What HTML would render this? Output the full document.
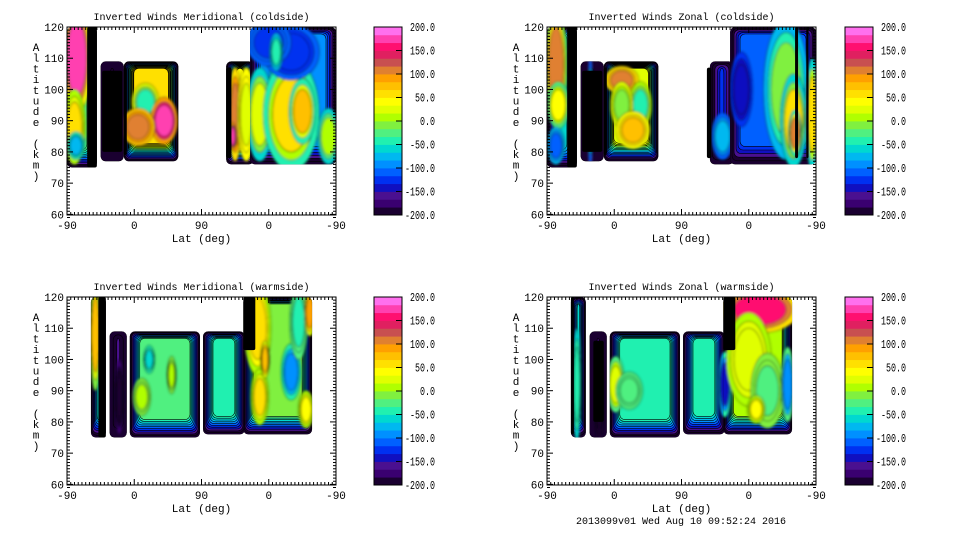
<!DOCTYPE html>
<html><head><meta charset="utf-8">
<style>
html,body{margin:0;padding:0;background:#fff;}
svg{display:block;font-family:"Liberation Mono","DejaVu Sans Mono",monospace;}
</style></head>
<body>
<svg id="chart" width="960" height="540" viewBox="0 0 960 540" xmlns="http://www.w3.org/2000/svg">
<defs>
<filter id="blur" x="-20%" y="-20%" width="140%" height="140%"><feGaussianBlur stdDeviation="1.2"/></filter>
</defs>
</svg>
<script>
// colour scale, from -200 (index 0) to +200 (index 23)
const bandColors = ['#1a0030','#3a0070','#4a1090','#1010c0','#0030f0','#0060ff','#0090ff','#00b8f0','#00d8d0','#20f0b0','#50f080','#80f040','#b0ff00','#e0ff00','#ffff00','#ffe000','#ffc000','#ffa000','#e08030','#c85050','#e02060','#ff1070','#ff40b0','#ff70ee'];
const colorbarTicks = ['200.0','150.0','100.0','50.0','0.0','-50.0','-100.0','-150.0','-200.0'];
const xTickLabels = ['-90','0','90','0','-90'];
const yTickValues = [60,70,80,90,100,110,120];
const panelTitles = ['Inverted Winds Meridional (coldside)','Inverted Winds Zonal (coldside)','Inverted Winds Meridional (warmside)','Inverted Winds Zonal (warmside)'];
// segments: [track0, track1, alt0, alt1, baseValue]
const segments1 = [[0,40,75,120,-20],[45,76,77,109,-190],[76,149,77,109,60],[213,250,76,109,40],[245,360,76,120,-100]];
const segments2 = [[0,40,75,120,-60],[45,76,77,109,-190],[76,149,77,109,30],[218,250,76,109,-130],[245,360,76,120,-110]];
const segments3 = [[32,52,75,120,-60],[57,80,75,109,-160],[84,178,75,109,-30],[182,238,76,109,-40],[236,328,76,120,-10]];
const segments4 = [[32,52,75,120,-60],[57,80,75,109,-180],[84,178,75,109,-40],[182,238,76,109,-50],[236,328,76,120,0]];
// blobs: [trackCenter, altCenter, trackRadius, altRadius, value]
const blobs1 = [[13,110,13,12,170],[10,88,10,8,50],[12,82,8,3,-80],[105,96,12,4,-40],[130,90,12,5,170],[95,88,15,4,110],[225,92,6,10,110],[222,85,3,3,170],[240,92,8,10,30],[258,92,12,10,30],[285,100,10,10,-40],[300,92,25,12,50],[315,93,12,7,80],[350,85,10,6,10],[300,112,25,6,-130],[270,115,20,5,-120],[280,112,6,4,-40]];
const blobs2 = [[12,108,10,12,110],[15,95,10,5,40],[12,82,8,4,-110],[58,93,3,14,-80],[100,103,15,3,100],[125,95,10,5,-40],[100,95,10,5,-10],[115,87,15,4,70],[235,85,10,5,-70],[260,100,10,8,-150],[320,100,20,15,-10],[330,90,12,10,50],[332,86,6,5,110],[355,92,6,12,60]];
const blobs3 = [[38,108,5,12,70],[70,88,4,8,-200],[100,88,8,4,10],[110,100,5,3,-60],[140,95,4,4,10],[255,110,12,10,60],[258,88,8,6,50],[265,100,4,4,80],[300,96,9,6,-100],[310,112,8,8,-40],[325,115,5,5,90],[320,84,7,4,40]];
const blobs4 = [[40,92,4,12,-40],[70,88,4,10,-200],[92,92,8,6,20],[110,90,12,4,-20],[238,92,6,7,-140],[285,116,35,5,150],[270,100,20,10,30],[295,90,15,8,-20],[322,92,6,8,-100],[280,84,8,3,40]];
// black stripes: [track0, track1, alt0, alt1]
const stripes1 = [[27,40,75,120],[47,74,80,106],[76,80,79,107],[213,220,78,107]];
const stripes2 = [[27,40,75,120],[47,74,80,106],[76,80,79,107],[214,220,78,107],[332,336,78,120],[347,350,78,120]];
const stripes3 = [[42,52,75,120],[236,252,103,120]];
const stripes4 = [[32,36,76,120],[62,76,80,106],[236,252,103,120]];

const panels = [
  {x0:67, y0:27, cb:374, title:panelTitles[0], seg:segments1, blob:blobs1, stripe:stripes1, name:'meridional-coldside'},
  {x0:547,y0:27, cb:845, title:panelTitles[1], seg:segments2, blob:blobs2, stripe:stripes2, name:'zonal-coldside'},
  {x0:67, y0:297,cb:374, title:panelTitles[2], seg:segments3, blob:blobs3, stripe:stripes3, name:'meridional-warmside'},
  {x0:547,y0:297,cb:845, title:panelTitles[3], seg:segments4, blob:blobs4, stripe:stripes4, name:'zonal-warmside'}
];
const W = 269, H = 188, NS = 'http://www.w3.org/2000/svg';
const svg = document.getElementById('chart');
function mk(tag, attrs, parent){const e=document.createElementNS(NS,tag);for(const k in attrs)e.setAttribute(k,attrs[k]);(parent||svg).appendChild(e);return e;}
function col(v){let i=Math.floor((v+200)/400*24);if(i<0)i=0;if(i>23)i=23;return bandColors[i];}

panels.forEach((p,pi)=>{
  const xs = t => p.x0 + t*W/360;
  const ys = a => p.y0 + (120-a)*H/60.2;
  const g = mk('g',{});
  
  
  const clip = mk('clipPath',{id:'clip'+pi},svg);
  mk('rect',{x:p.x0,y:p.y0,width:W,height:H},clip);
  const data = mk('g',{'clip-path':'url(#clip'+pi+')'},g);
  
  
  p.seg.forEach((s,si)=>{
    const x1=xs(s[0]),x2=xs(s[1]),y1=ys(s[3]),y2=ys(s[2]);
    const sc = mk('clipPath',{id:'sc'+pi+'_'+si},svg);
    mk('rect',{x:x1,y:y1,width:x2-x1,height:y2-y1,rx:5},sc);
    const sg = mk('g',{'clip-path':'url(#sc'+pi+'_'+si+')'},data);
    
    
    const steps = Math.max(1,Math.round((s[4]+200)/400*24));
    const side = Math.min(10,(x2-x1)/2.4)/steps, top = 7/steps, bot = 18/steps;
    for(let k=0;k<=steps;k++){
      const v=-200+k*400/24;
      const ix=k*side, iy=k*top;
      const w=(x2-x1)-2*ix, h=(y2-y1)-iy-k*bot;
      if(w<=0||h<=0)break;
      mk('rect',{x:x1+ix,y:y1+iy,width:w,height:h,rx:5,fill:col(k===steps?s[4]:v),stroke:'#000','stroke-width':0.6},sg);
    }
    const bg = mk('g',{filter:'url(#blur)'},sg);
    p.blob.forEach(b=>{
      if(b[0]<s[0]||b[0]>s[1])return;
      const bl = mk('g',{},bg);
      
      
      [1.5,1.22,1.0].forEach((f,r)=>{
        const v = s[4] + (b[4]-s[4])*(r+1)/3;
        mk('ellipse',{cx:xs(b[0]),cy:ys(b[1]),rx:b[2]*f*W/360,ry:b[3]*f*H/60.2,fill:col(v),stroke:'#000','stroke-width':0.6},bl);
      });
    });
  });
  p.stripe.forEach(s=>{
    const r = mk('rect',{x:xs(s[0]),y:ys(s[3]),width:xs(s[1])-xs(s[0]),height:ys(s[2])-ys(s[3]),fill:'#000',rx:2},data);
    
    
  });
  const fr = mk('rect',{x:p.x0,y:p.y0,width:W,height:H,fill:'none',stroke:'#000','stroke-width':1},g);
  
  
  for(let a=59;a<=120;a++){
    const y=ys(a), len=(a%10===0)?6:3;
    mk('line',{x1:p.x0,x2:p.x0+len,y1:y,y2:y,stroke:'#000','stroke-width':1},g);
    mk('line',{x1:p.x0+W,x2:p.x0+W-len,y1:y,y2:y,stroke:'#000','stroke-width':1},g);
  }
  yTickValues.forEach(v=>{
    const t=mk('text',{x:p.x0-3,y:ys(v)+4,'font-size':11,'text-anchor':'end',fill:'#000'},g);
    t.textContent=v;
    
    
  });
  for(let t=0;t<=360;t+=5){
    const x=xs(t), len=(t%90===0)?6:3;
    mk('line',{x1:x,x2:x,y1:p.y0+H,y2:p.y0+H-len,stroke:'#000','stroke-width':1},g);
    mk('line',{x1:x,x2:x,y1:p.y0,y2:p.y0+len,stroke:'#000','stroke-width':1},g);
  }
  xTickLabels.forEach((l,i)=>{
    const t=mk('text',{x:xs(i*90),y:p.y0+H+14,'font-size':11,'text-anchor':'middle',fill:'#000'},g);
    t.textContent=l;
    
    
  });
  const xl=mk('text',{x:p.x0+W/2,y:p.y0+H+27,'font-size':11,'text-anchor':'middle',fill:'#000'},g);
  xl.textContent='Lat (deg)';
  
  
  const tt=mk('text',{x:p.x0+W/2,y:p.y0-7,'font-size':10,'text-anchor':'middle',fill:'#000'},g);
  tt.textContent=p.title;
  
  
  const yl=mk('text',{x:p.x0-31,y:p.y0+24,'font-size':11,'text-anchor':'middle',fill:'#000'},g);
  
  
  'Altitude (km)'.split('').forEach((c,i)=>{
    const ts=mk('tspan',{x:p.x0-31,y:p.y0+24+i*10.7},yl);
    ts.textContent=c===' '?'\u00a0':c;
  });
  const cbg=mk('g',{},g);
  
  
  const bh=H/24;
  bandColors.forEach((c,i)=>{
    mk('rect',{x:p.cb,y:p.y0+H-(i+1)*bh,width:28,height:bh+0.4,fill:c},cbg);
  });
  mk('rect',{x:p.cb,y:p.y0,width:28,height:H,fill:'none',stroke:'#000','stroke-width':1},cbg);
  colorbarTicks.forEach((l,i)=>{
    const y=p.y0+i*H/8;
    if(i>0&&i<8)mk('line',{x1:p.cb+22,x2:p.cb+28,y1:y,y2:y,stroke:'#000'},cbg);
    const t=mk('text',{x:p.cb+61,y:y+4,'font-size':12,'text-anchor':'end',fill:'#000',textLength:l.length*5,lengthAdjust:'spacingAndGlyphs'},cbg);
    t.textContent=l;
    
    
  });
});
const ft=mk('text',{x:681,y:524,'font-size':10,'text-anchor':'middle',fill:'#000'});
ft.textContent='2013099v01 Wed Aug 10 09:52:24 2016';


</script>
</body></html>
